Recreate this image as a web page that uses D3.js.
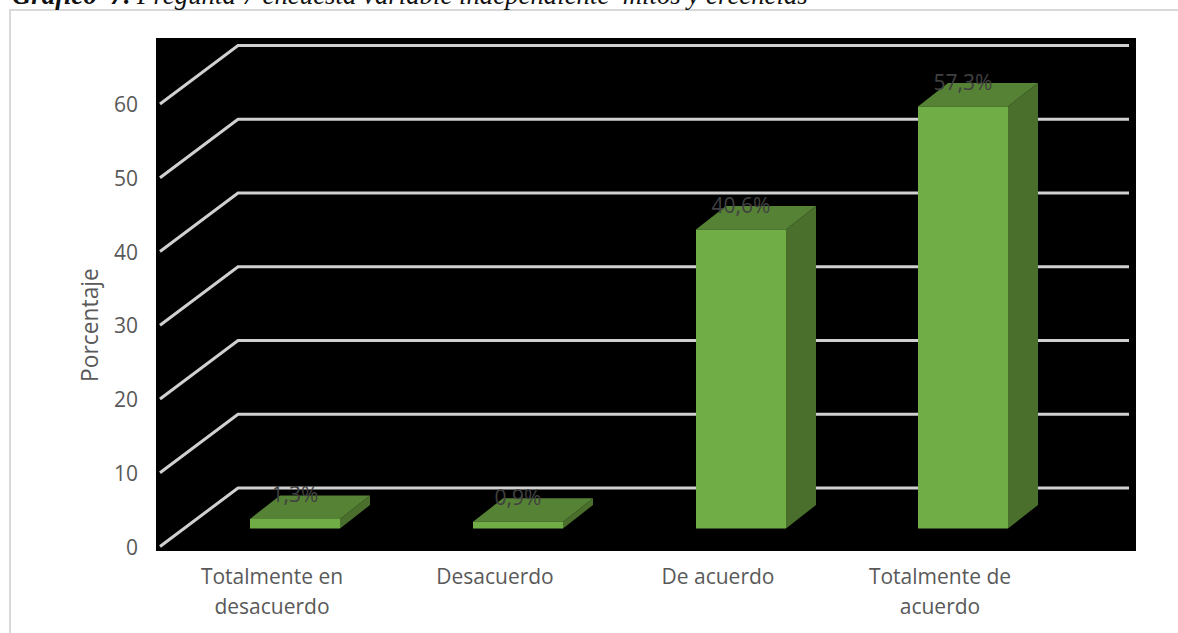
<!DOCTYPE html>
<html><head><meta charset="utf-8">
<script src="https://cdn.jsdelivr.net/npm/d3@7"></script>
<style>html,body{margin:0;padding:0;background:#fff;overflow:hidden}svg{display:block}text{white-space:pre}</style>
</head><body>
<script>
const categories = ["Totalmente en desacuerdo","Desacuerdo","De acuerdo","Totalmente de acuerdo"];
const categoryLines = [["Totalmente en","desacuerdo"],["Desacuerdo"],["De acuerdo"],["Totalmente de","acuerdo"]];
const values = [1.3,0.9,40.6,57.3];
const valueLabels = ["1,3%","0,9%","40,6%","57,3%"];
const yTicks = [0,10,20,30,40,50,60];
const titleBold = "Gráfico  7.";
const titleRest = " Pregunta 7 encuesta variable independiente  mitos y creencias";
const yTitle = "Porcentaje";

const W=1178,H=633;
const svg=d3.select("body").append("svg").attr("width",W).attr("height",H);
const font="Open Sans, sans-serif";
svg.append("rect").attr("x",10).attr("y",10).attr("width",W+20).attr("height",H+20).attr("fill","#fff").attr("stroke","#d9d9d9").attr("stroke-width",2);
svg.append("text").attr("x",12).attr("y",4).attr("font-family","Liberation Serif").attr("font-style","italic").attr("font-size",26.8).attr("fill","#111")
  .selectAll("tspan").data([[titleBold,700],[titleRest,400]]).join("tspan").attr("font-weight",d=>d[1]).text(d=>d[0]);
svg.append("rect").attr("x",156).attr("y",38).attr("width",980).attr("height",513).attr("fill","#000");

const y=d3.scaleLinear().domain([0,60]).range([546.5,104]);
const yBar=d3.scaleLinear().domain([0,60]).range([528.5,86.5]);
const depthX=78,depthY=58.5;
const barW=90,barDX=30,barDY=23.5;

const grid=svg.append("g");
yTicks.forEach(t=>{
  const p=d3.path();p.moveTo(160,y(t));p.lineTo(160+depthX,y(t)-depthY);p.lineTo(1129,y(t)-depthY);
  grid.append("path").attr("d",p.toString()).attr("fill","none").attr("stroke","#d0d0d0").attr("stroke-width",3);
});
const barCenters=[295,518,741,963];
const bars=svg.append("g").selectAll("g").data(values).join("g");
bars.each(function(v,i){
  const g=d3.select(this),l=barCenters[i]-barW/2,r=l+barW,top=yBar(v),bot=yBar(0);
  const poly=(pts,f)=>g.append("polygon").attr("points",pts.map(p=>p.join(",")).join(" ")).attr("fill",f);
  poly([[r,top],[r+barDX,top-barDY],[r+barDX,bot-barDY],[r,bot]],"#4a6f2d");
  poly([[l,top],[l+barDX,top-barDY],[r+barDX,top-barDY],[r,top]],"#568235");
  poly([[l,top],[r,top],[r,bot],[l,bot]],"#70ad47");
  g.append("text").attr("x",barCenters[i]).attr("y",top-16.5).attr("text-anchor","middle").attr("font-family",font).attr("font-size",21).attr("fill","#404040").text(valueLabels[i]);
});
const ax=svg.append("g").attr("transform","translate(138,0)").call(d3.axisLeft(y).tickValues(yTicks).tickSize(0).tickPadding(0));
ax.select(".domain").remove();
ax.selectAll("text").attr("font-family",font).attr("font-size",21).attr("fill","#595959").attr("x",0).attr("dy","0.36em");
svg.append("text").attr("transform","translate(98,325) rotate(-90)").attr("text-anchor","middle").attr("font-family",font).attr("font-size",22.8).attr("fill","#595959").text(yTitle);
categoryLines.forEach((ls,i)=>{
  const t=svg.append("text").attr("text-anchor","middle").attr("font-family",font).attr("font-size",21).attr("fill","#595959");
  ls.forEach((s,j)=>t.append("tspan").attr("x",[272,495,718,940][i]).attr("y",584+j*30).text(s));
});
</script>
</body></html>
